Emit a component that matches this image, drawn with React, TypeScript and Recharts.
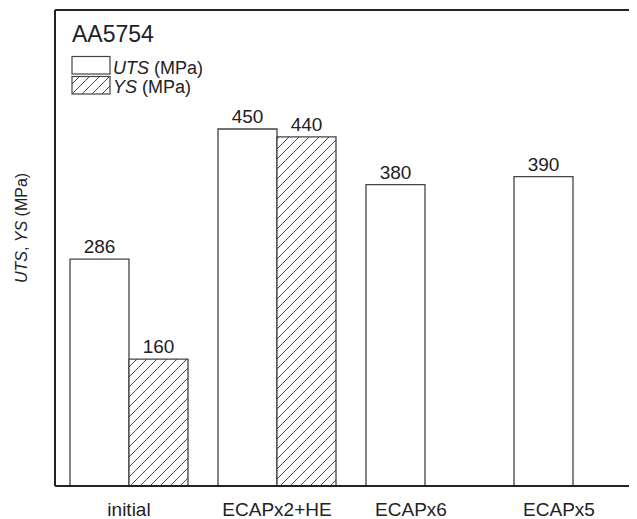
import React from 'react';
import { BarChart, Bar, XAxis, YAxis, ReferenceLine, LabelList, Label } from 'recharts';

const categories = ['initial', 'ECAPx2+HE', 'ECAPx6', 'ECAPx5'];
const utsValues = [286, 450, 380, 390];
const ysValues: (number | null)[] = [160, 440, null, null];

const data = categories.map((name, i) => ({ name, uts: utsValues[i], ys: ysValues[i] }));

const FONT = 'Liberation Sans, Arial, Helvetica, sans-serif';
const INK = '#222';
const BAR_EDGE = '#444';

// the last two category labels sit a little left of their group centre
const tickShift = [0, 0, -14, -14];

const CategoryTick = (props: any) => {
  const { x, y, payload, index } = props;
  return (
    <text x={x + tickShift[index]} y={y + 22} textAnchor="middle" fontSize={19} fontFamily={FONT} fill={INK}>
      {payload.value}
    </text>
  );
};

const YTitle = (props: any) => {
  const { viewBox } = props;
  const cx = viewBox.x + 13;
  const cy = viewBox.y + viewBox.height / 2 - 20;
  return (
    <text
      x={cx}
      y={cy}
      transform={`rotate(-90, ${cx}, ${cy})`}
      textAnchor="middle"
      dominantBaseline="central"
      fontSize={16}
      fontFamily={FONT}
      fill={INK}
    >
      <tspan fontStyle="italic">UTS</tspan>
      <tspan>, </tspan>
      <tspan fontStyle="italic">YS</tspan>
      <tspan> (MPa)</tspan>
    </text>
  );
};

const showValue = (v: any) => (v == null ? '' : v);

export default function App() {
  return (
    <div style={{ position: 'relative', width: 629, height: 511, overflow: 'hidden' }}>
      <BarChart
        width={639}
        height={511}
        data={data}
        margin={{ top: 2, right: 0, bottom: 0, left: 0 }}
        barGap={0}
        barCategoryGap={15}
      >
        <XAxis
          dataKey="name"
          height={33}
          tickLine={false}
          axisLine={{ stroke: INK, strokeWidth: 2 }}
          tick={<CategoryTick />}
          interval={0}
        />
        <YAxis
          width={47}
          domain={[0, 600]}
          tick={false}
          tickLine={false}
          axisLine={{ stroke: INK, strokeWidth: 2 }}
        >
          <Label content={<YTitle />} />
        </YAxis>
        <ReferenceLine y={600} stroke={INK} strokeWidth={2} />
        <Bar dataKey="uts" fill="#fff" stroke={BAR_EDGE} strokeWidth={1.3} isAnimationActive={false}>
          <LabelList dataKey="uts" position="top" offset={6} fontSize={19} fontFamily={FONT} fill={INK} formatter={showValue} />
        </Bar>
        <Bar dataKey="ys" fill="url(#hatch)" stroke={BAR_EDGE} strokeWidth={1.3} isAnimationActive={false}>
          <LabelList dataKey="ys" position="top" offset={6} fontSize={19} fontFamily={FONT} fill={INK} formatter={showValue} />
        </Bar>
      </BarChart>

      <svg
        width={629}
        height={511}
        style={{ position: 'absolute', left: 0, top: 0, pointerEvents: 'none' }}
      >
        <defs>
          <pattern id="hatch" patternUnits="userSpaceOnUse" width={10} height={10}>
            <rect width={10} height={10} fill="#fff" />
            <path d="M0,10 L10,0 M-3,3 L3,-3 M7,13 L13,7" stroke="#333" strokeWidth={0.9} />
          </pattern>
        </defs>
        <text x={64} y={34} fontSize={23} fontFamily={FONT} fill={INK}>AA5754</text>
        <rect x={64} y={48.5} width={38} height={17.5} fill="#fff" stroke={BAR_EDGE} strokeWidth={1.2} />
        <rect x={64} y={68.5} width={38} height={17.5} fill="url(#hatch)" stroke={BAR_EDGE} strokeWidth={1.2} />
        <text x={105} y={65.5} fontSize={18} fontFamily={FONT} fill={INK}>
          <tspan fontStyle="italic">UTS</tspan> (MPa)
        </text>
        <text x={105} y={85} fontSize={18} fontFamily={FONT} fill={INK}>
          <tspan fontStyle="italic">YS</tspan> (MPa)
        </text>
      </svg>
    </div>
  );
}
